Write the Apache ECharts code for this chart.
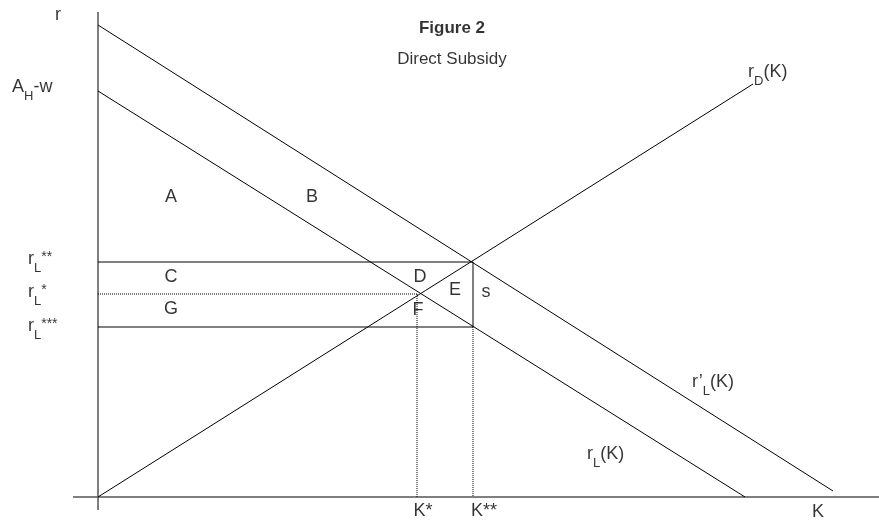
<!DOCTYPE html>
<html>
<head>
<meta charset="utf-8">
<title>Figure 2 - Direct Subsidy</title>
<script src="https://cdn.jsdelivr.net/npm/echarts@6/dist/echarts.min.js"></script>
<style>
html, body { margin: 0; padding: 0; background: #fff; }
#chart { width: 879px; height: 523px; }
</style>
</head>
<body>
<div id="chart"></div>
<script>
// curves, as [K, r] end points
var rLPrimeCurve = [[0, 47.2], [73.5, 0.6]];
var rLCurve = [[0, 40.6], [64.7, 0]];
var rDCurve = [[0, 0], [65.5, 41.3]];

// levels on the axes
var rLStarStar = 23.5;
var rLStar = 20.3;
var rLTripleStar = 17.0;
var kStar = 31.9;
var kStarStar = 37.5;

// axes
var axisK = [[-2.5, 0], [78.1, 0]];
var axisR = [[0, -1.3], [0, 48.5]];

// labels: [K, r, text, anchor]
var axisLabels = [
  [-4.0, 48.0, '{b|r}', 'c'],
  [-8.6, 40.8, '{b|A}{s|H}{b|-w}', 'l'],
  [-7.0, 23.6, '{b|r}{s|L}{p|**}', 'l'],
  [-7.0, 20.3, '{b|r}{s|L}{p|*}', 'l'],
  [-7.0, 16.9, '{b|r}{s|L}{p|***}', 'l'],
  [32.5, -1.6, '{b|K*}', 'c'],
  [38.6, -1.6, '{b|K**}', 'c'],
  [72.0, -1.7, '{b|K}', 'c']
];
var areaLabels = [
  [7.3, 29.8, 'A'], [21.4, 29.8, 'B'], [7.3, 21.8, 'C'], [7.3, 18.6, 'G'],
  [32.2, 21.8, 'D'], [35.7, 20.5, 'E'], [38.8, 20.3, 's'], [32.0, 18.5, 'F']
];
var curveLabels = [
  [65.0, 42.3, '{b|r}{s|D}{b|(K)}'],
  [59.4, 11.3, '{b|r\u2019}{s|L}{b|(K)}'],
  [48.9, 4.1, '{b|r}{s|L}{b|(K)}']
];
var titleLines = [
  [35.4, 46.9, 'Figure 2', 'bold'],
  [35.4, 43.8, 'Direct Subsidy', 'normal']
];

var FONT = '"Liberation Sans", Arial, sans-serif';
var rich = {
  b: { fontFamily: FONT, fontSize: 18, lineHeight: 21, verticalAlign: 'top', color: '#000' },
  s: { fontFamily: FONT, fontSize: 13, lineHeight: 13, padding: [11, 0, 0, 0], verticalAlign: 'top', color: '#000' },
  p: { fontFamily: FONT, fontSize: 14, lineHeight: 14, padding: [0, 0, 0, 0], verticalAlign: 'top', color: '#000' }
};

function seg(data, color, width, type) {
  return {
    type: 'line', data: data, symbol: 'none', silent: true,
    lineStyle: { color: color, width: width, type: type || 'solid' }
  };
}

var textData = [];
axisLabels.concat(curveLabels).forEach(function (d) {
  textData.push({
    value: [d[0], d[1]],
    label: { formatter: d[2], position: d[3] === 'c' ? 'inside' : 'right', distance: 0 }
  });
});
areaLabels.forEach(function (d) {
  textData.push({ value: [d[0], d[1]], label: { formatter: '{b|' + d[2] + '}', position: 'inside' } });
});
titleLines.forEach(function (d) {
  textData.push({
    value: [d[0], d[1]],
    label: { formatter: d[2], position: 'inside', fontFamily: FONT, fontSize: 17, fontWeight: d[3], color: '#000' }
  });
});

var chart = echarts.init(document.getElementById('chart'));
chart.setOption({
  animation: false,
  backgroundColor: '#fff',
  grid: { left: 0, right: 0, top: 0, bottom: 0 },
  xAxis: { type: 'value', min: -9.8, max: 78.1, show: false },
  yAxis: { type: 'value', min: -2.6, max: 49.7, show: false },
  series: [
    seg(axisK, '#555', 1.5),
    seg(axisR, '#555', 1.5),
    seg(rLPrimeCurve, '#000', 1),
    seg(rLCurve, '#000', 1),
    seg(rDCurve, '#000', 1),
    seg([[0, rLStarStar], [kStarStar, rLStarStar]], '#000', 1),
    seg([[0, rLTripleStar], [kStarStar, rLTripleStar]], '#000', 1),
    seg([[kStarStar, rLStarStar], [kStarStar, rLTripleStar]], '#000', 1),
    seg([[0, rLStar], [kStar, rLStar]], '#000', 1, 'dotted'),
    seg([[kStar, rLStar], [kStar, 0]], '#000', 1, 'dotted'),
    seg([[kStarStar, rLTripleStar], [kStarStar, 0]], '#000', 1, 'dotted'),
    {
      type: 'scatter', data: textData, symbolSize: 0, silent: true, clip: false,
      label: { show: true, rich: rich }
    }
  ]
});
</script>
</body>
</html>
